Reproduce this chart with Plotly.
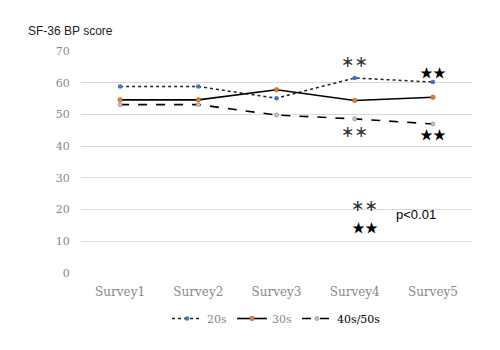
import plotly.graph_objects as go

surveys = ["Survey1", "Survey2", "Survey3", "Survey4", "Survey5"]
scores_20s = [58.8, 58.8, 55.1, 61.5, 60.2]
scores_30s = [54.6, 54.6, 57.8, 54.4, 55.4]
scores_40s50s = [53.1, 53.1, 49.8, 48.6, 47.0]
y_ticks = [0, 10, 20, 30, 40, 50, 60, 70]

serif = "DejaVu Serif"
sans = "Liberation Sans"

fig = go.Figure()
fig.add_trace(go.Scatter(
    x=surveys, y=scores_20s, name="20s", mode="lines+markers",
    line=dict(color="#222222", width=1.5, dash="dot"),
    marker=dict(color="#4472C4", size=4.5, symbol="circle"),
))
fig.add_trace(go.Scatter(
    x=surveys, y=scores_30s, name="30s", mode="lines+markers",
    line=dict(color="#000000", width=1.6),
    marker=dict(color="#ED7D31", size=4.5, symbol="circle",
                line=dict(color="#8a4a10", width=0.5)),
))
fig.add_trace(go.Scatter(
    x=surveys, y=scores_40s50s, name="<span style='color:#000'>40s/50s</span>",
    mode="lines+markers",
    line=dict(color="#000000", width=1.6, dash="dash"),
    marker=dict(color="#c8c8c8", size=4, symbol="circle",
                line=dict(color="#8c8c8c", width=0.8)),
))

AST = "\u2217\u2217"
STAR = "\u2605\u2605"
ast_font = dict(family="DejaVu Sans", size=16, color="#333")
star_font = dict(family="Noto Sans CJK JP", size=13, color="#000")

# significance marks
marks = [
    ("Survey4", 66.7, AST),
    ("Survey4", 44.6, AST),
    ("Survey5", 63.6, STAR),
    ("Survey5", 44.0, STAR),
]
for xv, yv, txt in marks:
    fig.add_annotation(x=xv, y=yv, xref="x", yref="y", text=txt, showarrow=False,
                       font=ast_font if txt == AST else star_font)

# key for the marks
fig.add_annotation(x=3.13, y=21.2, xref="x", yref="y", text=AST, showarrow=False,
                   font=ast_font)
fig.add_annotation(x=3.13, y=14.6, xref="x", yref="y", text=STAR, showarrow=False,
                   font=star_font)
fig.add_annotation(x=3.5, y=18.5, xref="x", yref="y", text="p<0.01", showarrow=False,
                   xanchor="left", font=dict(family=sans, size=13, color="#000"))

fig.add_annotation(x=(26 - 81) / 391, y=(273 - 31) / 222, xref="paper", yref="paper",
                   text="SF-36 BP score", showarrow=False, xanchor="left",
                   yanchor="middle", font=dict(family=sans, size=12, color="#222"))

fig.update_layout(
    width=500, height=350,
    margin=dict(l=81, r=28, t=51, b=77),
    paper_bgcolor="white", plot_bgcolor="white",
    showlegend=True,
    legend=dict(orientation="h", x=0.5, xanchor="center", y=-0.205, yanchor="middle",
                font=dict(family=serif, size=11, color="#888"), itemwidth=30,
                bgcolor="rgba(0,0,0,0)"),
    xaxis=dict(showgrid=False, showline=False, zeroline=False,
               ticks="outside", ticklen=8, tickcolor="rgba(0,0,0,0)",
               tickfont=dict(family=serif, size=12, color="#888"),
               range=[-0.5, 4.5]),
    yaxis=dict(range=[0, 70], tickvals=y_ticks, showgrid=True, gridcolor="#d9d9d9",
               gridwidth=1, zeroline=False, showline=False,
               ticks="outside", ticklen=8, tickcolor="rgba(0,0,0,0)",
               tickfont=dict(family=serif, size=11, color="#888")),
)

fig.write_html("out.html")
